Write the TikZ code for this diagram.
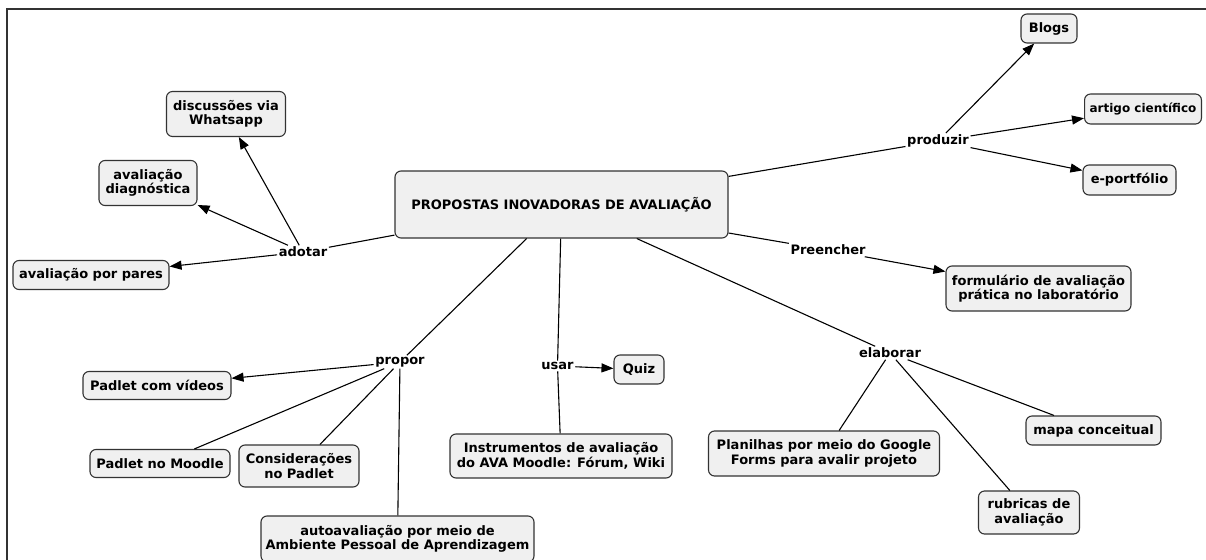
\documentclass[tikz,border=0pt]{standalone}
\usepackage{fontspec}
\setmainfont{DejaVu Sans}
\usetikzlibrary{arrows.meta}

\begin{document}
\begin{tikzpicture}[
  x=1pt, y=-1pt,
  font=\fontsize{13}{14.5}\selectfont\bfseries,
  concept/.style={
    draw=black!80,
    rounded corners=6pt,
    fill=black!6,
    align=center,
    inner sep=2pt,
    line width=1.1pt
  },
  phrase/.style={inner sep=1.5pt},
  connector/.style={line width=1.1pt},
  arrow/.style={connector, -{Triangle[length=12pt,width=9pt]}},
  frame/.style={draw=black!80, line width=2pt}
]
\useasboundingbox (0,0) rectangle (1206,559);
\draw[frame] (7,9.5) rectangle (1240,600);

% Central concept
\node[concept, minimum width=333pt, minimum height=67pt] (central) at (561.5,204.5)
  {PROPOSTAS INOVADORAS DE AVALIAÇÃO};

% adotar
\node[phrase] (adotar) at (303,252) {adotar};
\node[concept, minimum width=119pt, minimum height=45pt] (whatsapp) at (226,114) {discussões via\\Whatsapp};
\node[concept, minimum width=98pt, minimum height=45pt] (diagnostica) at (148,183) {avaliação\\diagnóstica};
\node[concept, minimum width=156pt, minimum height=29pt] (pares) at (91,275) {avaliação por pares};

% produzir
\node[phrase] (produzir) at (938,141) {produzir};
\node[concept, minimum width=56pt, minimum height=29pt] (blogs) at (1049,28.5) {Blogs};
\node[concept, minimum height=30pt, anchor=west, inner xsep=5pt,
  font=\fontsize{12}{14.5}\selectfont\bfseries] (artigo) at (1084,109) {artigo científico};
\node[concept, minimum width=93pt, minimum height=30pt] (portfolio) at (1129.5,180) {e-portfólio};

% Preencher
\node[phrase] (preencher) at (828,250) {Preencher};
\node[concept, minimum width=185pt, minimum height=45pt] (formulario) at (1038.5,288.5)
  {formulário de avaliação\\prática no laboratório};

% propor
\node[phrase] (propor) at (400,362) {propor};
\node[concept, minimum width=148pt, minimum height=28pt] (padletvideos) at (157,385.5) {Padlet com vídeos};
\node[concept, minimum width=140pt, minimum height=28pt] (padletmoodle) at (160,463.5) {Padlet no Moodle};
\node[concept, minimum width=120pt, minimum height=42pt] (consideracoes) at (299,466) {Considerações\\no Padlet};
\node[concept, minimum width=273pt, minimum height=46pt] (autoaval) at (397.5,539)
  {autoavaliação por meio de\\Ambiente Pessoal de Aprendizagem};

% usar
\node[phrase] (usar) at (557.5,366) {usar};
\node[concept, minimum width=50pt, minimum height=29pt] (quiz) at (639,369.5) {Quiz};
\node[concept, minimum width=222pt, minimum height=44pt] (instrumentos) at (561,456)
  {Instrumentos de avaliação\\do AVA Moodle: Fórum, Wiki};

% elaborar
\node[phrase] (elaborar) at (890,353) {elaborar};
\node[concept, minimum width=231pt, minimum height=45pt] (planilhas) at (824,453.5)
  {Planilhas por meio do Google\\Forms para avalir projeto};
\node[concept, minimum width=135pt, minimum height=29pt] (mapa) at (1093.5,430.5) {mapa conceitual};
\node[concept, minimum width=101pt, minimum height=43pt] (rubricas) at (1029,512.5) {rubricas de\\avaliação};

% Connectors from the central concept
\draw[connector] (central) -- (adotar);
\draw[connector] (central) -- (produzir);
\draw[connector] (central) -- (preencher);
\draw[connector] (central) -- (propor);
\draw[connector] (central) -- (usar);
\draw[connector] (central) -- (elaborar);

% adotar
\draw[arrow] (adotar) -- (whatsapp);
\draw[arrow] (adotar) -- (diagnostica);
\draw[arrow] (adotar) -- (pares);

% produzir
\draw[arrow] (produzir) -- (blogs);
\draw[arrow] (produzir) -- (artigo);
\draw[arrow] (produzir) -- (portfolio);

% Preencher
\draw[arrow] (preencher) -- (formulario);

% propor
\draw[arrow] (propor) -- (padletvideos);
\draw[connector] (propor) -- (padletmoodle);
\draw[connector] (propor) -- (consideracoes);
\draw[connector] (propor) -- (autoaval);

% usar
\draw[arrow] (usar) -- (quiz);
\draw[connector] (usar) -- (instrumentos);

% elaborar
\draw[connector] (elaborar) -- (planilhas);
\draw[connector] (elaborar) -- (mapa);
\draw[connector] (elaborar) -- (rubricas);

\end{tikzpicture}
\end{document}
